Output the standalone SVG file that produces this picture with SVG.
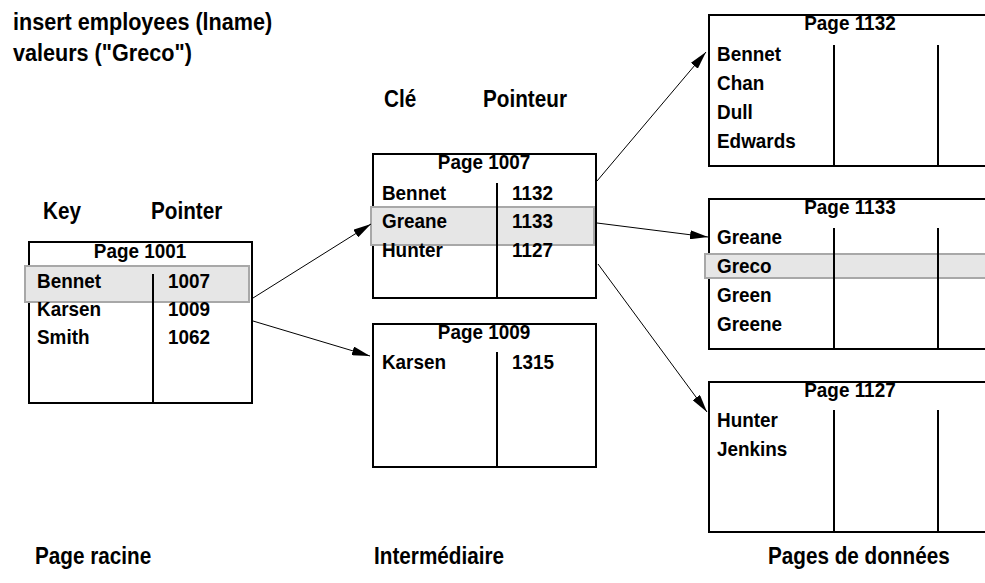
<svg xmlns="http://www.w3.org/2000/svg" width="985" height="583" viewBox="0 0 985 583">
<style>
text{font-family:"Liberation Sans",Arial,sans-serif;font-weight:bold;fill:#000}
.t{font-size:21px}
.lab{font-size:23px}
.ttl{font-size:24px}
.mid{text-anchor:middle}
.box{fill:none;stroke:#000;stroke-width:2}
.div{stroke:#000;stroke-width:2}
.hl{fill:#e6e6e6;stroke:#a8a8a8;stroke-width:2}
.con{stroke:#000;stroke-width:1;fill:none;marker-end:url(#ah)}
</style>
<defs>
<marker id="ah" viewBox="0 0 18 9" refX="18" refY="4.5" markerWidth="18" markerHeight="9" markerUnits="userSpaceOnUse" orient="auto">
<path d="M0,0 L18,4.5 L0,9 Z" fill="#000"/>
</marker>
</defs>
<rect width="985" height="583" fill="#fff"/>

<g id="title" transform="scale(0.9,1)">
<text class="ttl" x="14.4" y="30">insert employees (lname)</text>
<text class="ttl" x="14.4" y="61">valeurs ("Greco")</text>
</g>

<g id="labels" transform="scale(0.9,1)">
<text class="lab" x="47.8" y="219">Key</text>
<text class="lab" x="167.8" y="219">Pointer</text>
<text class="lab" x="426.7" y="107">Clé</text>
<text class="lab" x="536.7" y="107">Pointeur</text>
<text class="lab" x="38.9" y="564">Page racine</text>
<text class="lab" x="415.6" y="564">Intermédiaire</text>
<text class="lab" x="853.3" y="564">Pages de données</text>
</g>

<g id="page1001">
<rect class="box" x="29" y="242" width="223" height="161"/>
<rect class="hl" x="25" y="266" width="224" height="36"/>
<line class="div" x1="153" y1="274" x2="153" y2="403"/>
<g transform="scale(0.9,1)">
<text class="t mid" x="155.6" y="258">Page 1001</text>
<text class="t" x="41.1" y="288">Bennet</text>
<text class="t" x="186.7" y="288">1007</text>
<text class="t" x="41.1" y="316">Karsen</text>
<text class="t" x="186.7" y="316">1009</text>
<text class="t" x="41.1" y="344">Smith</text>
<text class="t" x="186.7" y="344">1062</text>
</g>
</g>

<g id="page1007">
<rect class="box" x="373" y="154" width="223" height="144"/>
<rect class="hl" x="371" y="207" width="223" height="38"/>
<line class="div" x1="497" y1="183" x2="497" y2="298"/>
<g transform="scale(0.9,1)">
<text class="t mid" x="537.8" y="169">Page 1007</text>
<text class="t" x="424.4" y="200">Bennet</text>
<text class="t" x="568.9" y="200">1132</text>
<text class="t" x="424.4" y="228">Greane</text>
<text class="t" x="568.9" y="228">1133</text>
<text class="t" x="424.4" y="257">Hunter</text>
<text class="t" x="568.9" y="257">1127</text>
</g>
</g>

<g id="page1009">
<rect class="box" x="373" y="324" width="223" height="143"/>
<line class="div" x1="497" y1="352" x2="497" y2="467"/>
<g transform="scale(0.9,1)">
<text class="t mid" x="537.8" y="339">Page 1009</text>
<text class="t" x="424.4" y="369">Karsen</text>
<text class="t" x="568.9" y="369">1315</text>
</g>
</g>

<g id="page1132">
<rect class="box" x="709" y="15" width="290" height="151"/>
<line class="div" x1="834" y1="45" x2="834" y2="166"/>
<line class="div" x1="938" y1="45" x2="938" y2="166"/>
<g transform="scale(0.9,1)">
<text class="t mid" x="944.4" y="30">Page 1132</text>
<text class="t" x="796.7" y="61">Bennet</text>
<text class="t" x="796.7" y="90">Chan</text>
<text class="t" x="796.7" y="119">Dull</text>
<text class="t" x="796.7" y="148">Edwards</text>
</g>
</g>

<g id="page1133">
<rect class="box" x="709" y="199" width="290" height="150"/>
<rect class="hl" x="705" y="254" width="290" height="24"/>
<line class="div" x1="834" y1="228" x2="834" y2="349"/>
<line class="div" x1="938" y1="228" x2="938" y2="349"/>
<g transform="scale(0.9,1)">
<text class="t mid" x="944.4" y="214">Page 1133</text>
<text class="t" x="796.7" y="244">Greane</text>
<text class="t" x="796.7" y="273">Greco</text>
<text class="t" x="796.7" y="302">Green</text>
<text class="t" x="796.7" y="331">Greene</text>
</g>
</g>

<g id="page1127">
<rect class="box" x="709" y="382" width="290" height="150"/>
<line class="div" x1="834" y1="410" x2="834" y2="532"/>
<line class="div" x1="938" y1="410" x2="938" y2="532"/>
<g transform="scale(0.9,1)">
<text class="t mid" x="944.4" y="397">Page 1127</text>
<text class="t" x="796.7" y="427">Hunter</text>
<text class="t" x="796.7" y="456">Jenkins</text>
</g>
</g>

<g id="connectors">
<line class="con" x1="253" y1="298" x2="371" y2="224"/>
<line class="con" x1="253" y1="321" x2="370" y2="356"/>
<line class="con" x1="597" y1="181" x2="706" y2="52"/>
<line class="con" x1="597" y1="223" x2="708" y2="237"/>
<line class="con" x1="598" y1="264" x2="707" y2="412"/>
</g>
</svg>
